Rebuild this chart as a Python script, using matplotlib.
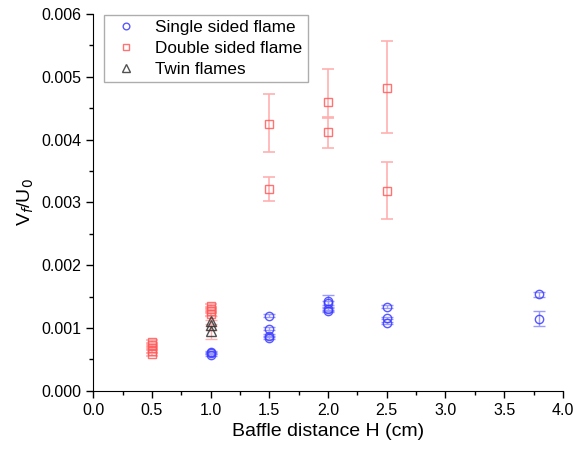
import numpy as np
import matplotlib
matplotlib.use("Agg")
import matplotlib.pyplot as plt
from matplotlib.ticker import MultipleLocator

plt.rcParams['font.family'] = ['Liberation Sans', 'DejaVu Sans']

# Single sided flame
single_x = [1.0, 1.0, 1.0, 1.5, 1.5, 1.5, 1.5, 2.0, 2.0, 2.0, 2.0, 2.5, 2.5, 2.5, 3.8, 3.8]
single_y = [0.00057, 0.00060, 0.00062, 0.00085, 0.00088, 0.00099, 0.00120,
            0.00127, 0.00130, 0.00140, 0.00143, 0.00108, 0.00116, 0.00134,
            0.00115, 0.00154]
single_err = [0.00002, 0.00002, 0.00002, 0.00002, 0.00002, 0.00002, 0.00002,
              0.00002, 0.00002, 0.00003, 0.00010, 0.00002, 0.00002, 0.00002,
              0.00012, 0.00004]

# Double sided flame
double_x = [0.5, 0.5, 0.5, 0.5, 0.5, 1.0, 1.0, 1.0, 1.0, 1.5, 1.5, 2.0, 2.0, 2.5, 2.5]
double_y = [0.00058, 0.00063, 0.00068, 0.00073, 0.00078, 0.00122, 0.00127,
            0.00131, 0.00135, 0.00322, 0.00425, 0.00412, 0.00460, 0.00318, 0.00483]
double_lo = [0.00003, 0.00003, 0.00003, 0.00003, 0.00003, 0.00003, 0.00003,
             0.00003, 0.00003, 0.00019, 0.00045, 0.00025, 0.00025, 0.00045, 0.00073]
double_hi = [0.00003, 0.00003, 0.00003, 0.00003, 0.00003, 0.00003, 0.00003,
             0.00003, 0.00003, 0.00018, 0.00047, 0.00024, 0.00052, 0.00046, 0.00074]

# Twin flames
twin_x = [1.0, 1.0, 1.0]
twin_y = [0.00095, 0.00105, 0.00112]
twin_err = [0.00012, 0.00008, 0.00008]

blue = '#3b3bff'
red = '#ff5a5a'
gray = '#333333'

fig = plt.figure(figsize=(5.75, 4.54), dpi=100)
ax = fig.add_axes([0.162, 0.139, 0.817, 0.830])

ax.errorbar(double_x, double_y, yerr=[double_lo, double_hi], fmt='none',
            ecolor='#ffb0b0', elinewidth=1.2, capsize=4, capthick=1.2, zorder=1)
ax.errorbar(single_x, single_y, yerr=single_err, fmt='none',
            ecolor='#9a9aff', elinewidth=1.0, capsize=4, capthick=1.0, zorder=1)
ax.errorbar(twin_x, twin_y, yerr=twin_err, fmt='none',
            ecolor='#ffb0b0', elinewidth=1.0, capsize=4, capthick=1.0, zorder=1)

ax.plot(single_x, single_y, 'o', ms=6, mfc='none', mec=blue, mew=1.0,
        alpha=0.85, label='Single sided flame', zorder=3)
ax.plot(double_x, double_y, 's', ms=6, mfc='none', mec=red, mew=1.0,
        alpha=0.85, label='Double sided flame', zorder=3)
ax.plot(twin_x, twin_y, '^', ms=7, mfc='none', mec=gray, mew=1.0,
        alpha=0.85, label='Twin flames', zorder=3)

ax.set_xlim(0, 4.0)
ax.set_ylim(0, 0.006)
ax.xaxis.set_major_locator(MultipleLocator(0.5))
ax.xaxis.set_minor_locator(MultipleLocator(0.25))
ax.yaxis.set_major_locator(MultipleLocator(0.001))
ax.yaxis.set_minor_locator(MultipleLocator(0.0005))
ax.xaxis.set_major_formatter(plt.FuncFormatter(lambda v, p: f"{v:.1f}"))
ax.yaxis.set_major_formatter(plt.FuncFormatter(lambda v, p: f"{v:.3f}"))

ax.spines['top'].set_visible(False)
ax.spines['right'].set_visible(False)
ax.tick_params(which='major', direction='out', length=5, width=1, labelsize=11.5)
ax.tick_params(which='minor', direction='out', length=3, width=1)

ax.set_xlabel('Baffle distance H (cm)', fontsize=14)
ax.set_ylabel('V$_f$/U$_0$', fontsize=14)

leg = ax.legend(loc='upper left', fontsize=12.3, fancybox=False, edgecolor='#999999',
                handletextpad=0.7, borderpad=0.3, labelspacing=0.35, markerscale=0.8,
                bbox_to_anchor=(0.005, 1.02))
leg.get_frame().set_linewidth(1.0)

fig.savefig('out.png', dpi=100)
